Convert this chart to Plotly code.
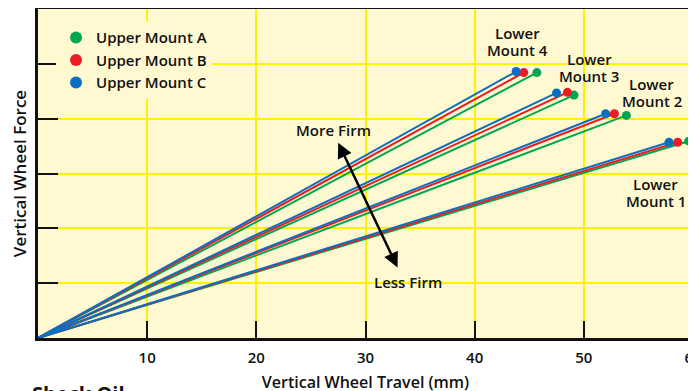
import plotly.graph_objects as go

# endpoints of each curve (travel mm, force units) for lower mounts 1..4
montajes_inferiores = ["1", "2", "3", "4"]
serie_nombres = ["Upper Mount A", "Upper Mount B", "Upper Mount C"]
serie_colores = ["#00A651", "#ED1C24", "#0A6FC2"]

recorrido_a = [59.6, 53.9, 49.1, 45.7]
fuerza_a = [3.59, 4.06, 4.43, 4.84]
recorrido_b = [58.6, 52.8, 48.5, 44.5]
fuerza_b = [3.57, 4.09, 4.48, 4.84]
recorrido_c = [57.8, 52.0, 47.5, 43.8]
fuerza_c = [3.57, 4.09, 4.47, 4.86]

etiqueta_x = [56.6, 56.2, 50.5, 43.9]
etiqueta_y = [2.66, 4.48, 4.93, 5.40]

ticks_x = [10, 20, 30, 40, 50, 60]
ticks_y = [1, 2, 3, 4, 5]

FUENTE = "Open Sans, sans-serif"
FONDO = "#FFF9D2"
REJILLA = "#FFF200"
TEXTO = dict(size=15, color="#111", family=FUENTE, weight=600)

fig = go.Figure()

series = [(recorrido_a, fuerza_a), (recorrido_b, fuerza_b), (recorrido_c, fuerza_c)]
for (xs, ys), nombre, color in zip(series, serie_nombres, serie_colores):
    for x_fin, y_fin in zip(xs, ys):
        fig.add_trace(go.Scatter(
            x=[0, x_fin], y=[0, y_fin], mode="lines",
            line=dict(color=color, width=2), showlegend=False, hoverinfo="skip",
            cliponaxis=False,
        ))
    fig.add_trace(go.Scatter(
        x=xs, y=ys, mode="markers", name=nombre,
        marker=dict(color=color, size=9), cliponaxis=False,
    ))

# two-line labels, tighter leading than <br> gives
for num, x, y in zip(montajes_inferiores, etiqueta_x, etiqueta_y):
    fig.add_annotation(x=x, y=y, text="Lower", showarrow=False, yshift=8.5, font=TEXTO)
    fig.add_annotation(x=x, y=y, text="Mount " + num, showarrow=False, yshift=-8.5, font=TEXTO)

# double-headed arrow
fig.add_annotation(x=27.5, y=3.56, ax=33.0, ay=1.26, xref="x", yref="y", axref="x", ayref="y",
                   text="", showarrow=True, arrowhead=2, arrowsize=1.2, arrowwidth=2.5,
                   arrowcolor="#000", startarrowhead=2, startarrowsize=1.2, arrowside="end+start")
fig.add_annotation(x=27.1, y=3.79, text="More Firm", showarrow=False, font=TEXTO)
fig.add_annotation(x=33.9, y=1.02, text="Less Firm", showarrow=False, font=TEXTO)

fig.add_annotation(x=-0.012, y=-0.122, xref="paper", yref="paper", xanchor="left", yanchor="top",
                   text="Shock Oil", showarrow=False,
                   font=dict(size=20, color="#111", family=FUENTE, weight="bold"))

fig.update_layout(
    width=696, height=391,
    margin=dict(l=30, r=11, t=1, b=61, autoexpand=False),
    paper_bgcolor="white",
    plot_bgcolor=FONDO,
    font=dict(family=FUENTE, color="#111", size=14, weight=600),
    showlegend=True,
    legend=dict(x=0.0275, y=0.963, xanchor="left", yanchor="top", bgcolor=FONDO,
                font=dict(size=15, weight=600), itemsizing="constant",
                tracegroupgap=0, borderwidth=0),
    xaxis=dict(
        range=[0, 60], tickvals=ticks_x, ticks="inside", ticklen=17, tickwidth=2,
        tickcolor="#111", showgrid=True, gridcolor=REJILLA, gridwidth=1.5,
        showline=True, linecolor="#111", linewidth=3, mirror=True, zeroline=False,
        automargin=False, ticklabelstandoff=4,
        title=dict(text="Vertical Wheel Travel (mm)", font=dict(size=16, weight=600), standoff=11),
        tickfont=dict(size=15, weight=600),
    ),
    yaxis=dict(
        range=[0, 6], tickvals=ticks_y, ticks="inside", ticklen=20, tickwidth=2,
        tickcolor="#111", showticklabels=False, showgrid=True, gridcolor=REJILLA, gridwidth=1.5,
        showline=True, linecolor="#111", linewidth=3, mirror=True, zeroline=False,
        automargin=False,
        title=dict(text="Vertical Wheel Force", font=dict(size=17, weight=600), standoff=8),
    ),
)

fig.write_html("out.html")
